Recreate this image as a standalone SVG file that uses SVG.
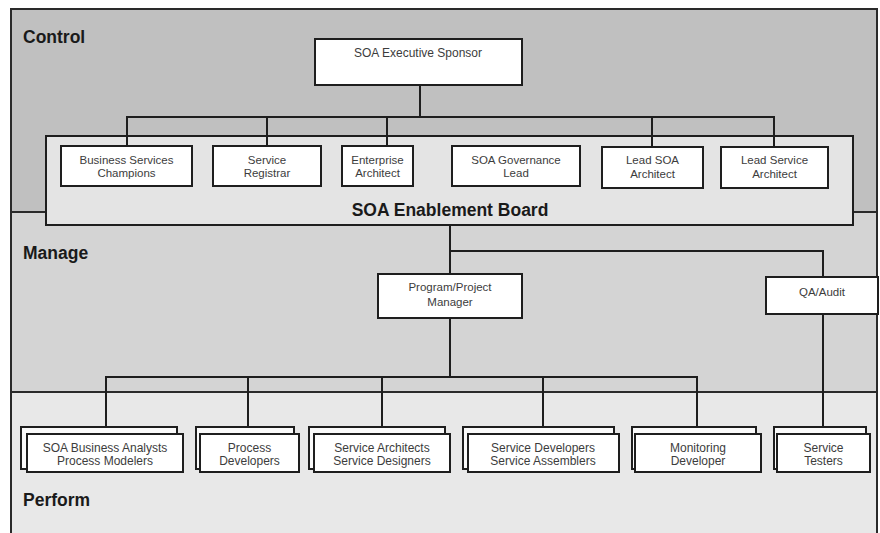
<svg xmlns="http://www.w3.org/2000/svg" width="880" height="533" viewBox="0 0 880 533">
<style>
.box{fill:#ffffff;stroke:#1e1e1e;stroke-width:2}
.back{fill:#fafafa;stroke:#1e1e1e;stroke-width:2}
.t{font-family:"Liberation Sans",Arial,sans-serif;font-size:11.5px;fill:#3c3c3c;text-anchor:middle}
.tb{font-family:"Liberation Sans",Arial,sans-serif;font-size:12px;fill:#3c3c3c;text-anchor:middle}
.lbl{font-family:"Liberation Sans",Arial,sans-serif;font-size:17.5px;font-weight:bold;fill:#1a1a1a}
.ln{stroke:#1e1e1e;stroke-width:2;fill:none}
.frame{stroke:#2a2a2a;stroke-width:2;fill:none}
</style>
<rect x="0" y="0" width="880" height="533" fill="#ffffff"/>
<g id="regions">
<rect x="11" y="9" width="866" height="203" fill="#c0c0c0"/>
<rect x="11" y="212" width="866" height="180" fill="#d4d4d4"/>
<rect x="11" y="392" width="866" height="141" fill="#e8e8e8"/>
<path class="frame" d="M11,533 V9 H877 V533"/>
<line class="frame" x1="11" y1="212" x2="877" y2="212"/>
<line class="frame" x1="11" y1="392" x2="877" y2="392"/>
<text class="lbl" x="23" y="43">Control</text>
<text class="lbl" x="23" y="259">Manage</text>
<text class="lbl" x="23" y="506">Perform</text>
</g>
<g id="board">
<rect x="46" y="136" width="807" height="89" fill="#e4e4e4" stroke="#1e1e1e" stroke-width="2"/>
<text x="450" y="216" font-family="Liberation Sans, Arial, sans-serif" font-size="17.5" font-weight="bold" fill="#1a1a1a" text-anchor="middle">SOA Enablement Board</text>
</g>
<g id="connectors">
<path class="ln" d="M420,85 V117"/>
<path class="ln" d="M127,146 V117 H774 V146"/>
<path class="ln" d="M267,117 V146"/>
<path class="ln" d="M387,117 V146"/>
<path class="ln" d="M652,117 V147"/>
<path class="ln" d="M450,225 V274"/>
<path class="ln" d="M450,251 H823 V277"/>
<path class="ln" d="M450,318 V377"/>
<path class="ln" d="M106,427 V377 H697 V427"/>
<path class="ln" d="M248,377 V427"/>
<path class="ln" d="M382,377 V427"/>
<path class="ln" d="M543,377 V427"/>
<path class="ln" d="M823,314 V427"/>
</g>
<g id="exec-sponsor">
<rect class="box" x="315" y="39" width="207" height="46"/>
<text class="tb" x="418" y="57">SOA Executive Sponsor</text>
</g>
<g id="business-services-champions">
<rect class="box" x="61" y="146" width="131" height="40"/>
<text class="t" x="126.5" y="164">Business Services</text>
<text class="t" x="126.5" y="177">Champions</text>
</g>
<g id="service-registrar">
<rect class="box" x="213" y="146" width="108" height="40"/>
<text class="t" x="267" y="164">Service</text>
<text class="t" x="267" y="177">Registrar</text>
</g>
<g id="enterprise-architect">
<rect class="box" x="342" y="146" width="71" height="40"/>
<text class="t" x="377.5" y="164">Enterprise</text>
<text class="t" x="377.5" y="177">Architect</text>
</g>
<g id="soa-governance-lead">
<rect class="box" x="452" y="146" width="128" height="40"/>
<text class="t" x="516" y="164">SOA Governance</text>
<text class="t" x="516" y="177">Lead</text>
</g>
<g id="lead-soa-architect">
<rect class="box" x="602" y="147" width="101" height="41"/>
<text class="t" x="652.5" y="164">Lead SOA</text>
<text class="t" x="652.5" y="178">Architect</text>
</g>
<g id="lead-service-architect">
<rect class="box" x="721" y="147" width="107" height="41"/>
<text class="t" x="774.5" y="164">Lead Service</text>
<text class="t" x="774.5" y="178">Architect</text>
</g>
<g id="program-project-manager">
<rect class="box" x="378" y="274" width="144" height="44"/>
<text class="t" x="450" y="291">Program/Project</text>
<text class="t" x="450" y="306">Manager</text>
</g>
<g id="qa-audit">
<rect class="box" x="766" y="277" width="112" height="37"/>
<text class="t" x="822" y="296">QA/Audit</text>
</g>
<g id="soa-business-analysts">
<rect class="back" x="21" y="427" width="156" height="42"/>
<rect class="box" x="27" y="434" width="156" height="38"/>
<text class="tb" x="105" y="452">SOA Business Analysts</text>
<text class="tb" x="105" y="465">Process Modelers</text>
</g>
<g id="process-developers">
<rect class="back" x="196" y="427" width="98" height="42"/>
<rect class="box" x="200" y="434" width="99" height="38"/>
<text class="tb" x="249.5" y="452">Process</text>
<text class="tb" x="249.5" y="465">Developers</text>
</g>
<g id="service-architects">
<rect class="back" x="309" y="427" width="136" height="42"/>
<rect class="box" x="314" y="434" width="136" height="38"/>
<text class="tb" x="382" y="452">Service Architects</text>
<text class="tb" x="382" y="465">Service Designers</text>
</g>
<g id="service-developers">
<rect class="back" x="463" y="427" width="151" height="42"/>
<rect class="box" x="468" y="434" width="151" height="38"/>
<text class="tb" x="543" y="452">Service Developers</text>
<text class="tb" x="543" y="465">Service Assemblers</text>
</g>
<g id="monitoring-developer">
<rect class="back" x="632" y="427" width="124" height="42"/>
<rect class="box" x="635" y="434" width="126" height="38"/>
<text class="tb" x="698" y="452">Monitoring</text>
<text class="tb" x="698" y="465">Developer</text>
</g>
<g id="service-testers">
<rect class="back" x="774" y="427" width="92" height="42"/>
<rect class="box" x="777" y="434" width="93" height="38"/>
<text class="tb" x="823.5" y="452">Service</text>
<text class="tb" x="823.5" y="465">Testers</text>
</g>
</svg>
